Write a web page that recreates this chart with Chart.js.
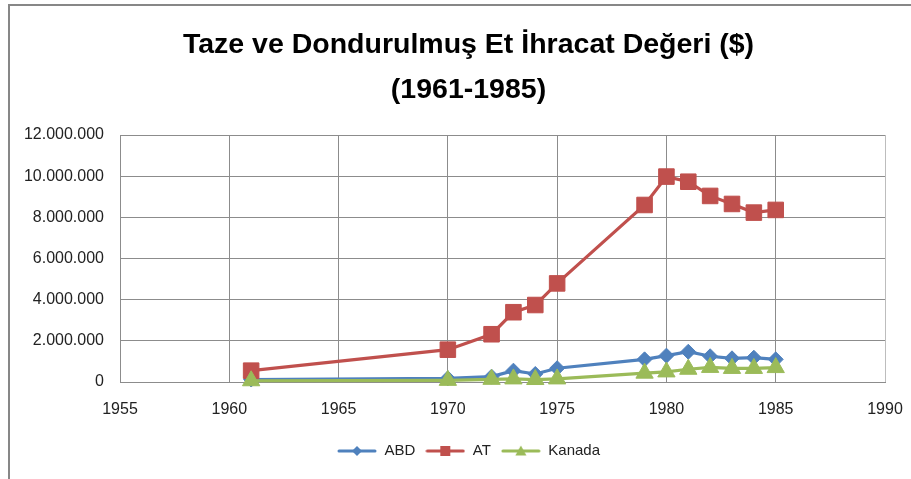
<!DOCTYPE html>
<html><head><meta charset="utf-8">
<script src="https://cdn.jsdelivr.net/npm/chart.js@4/dist/chart.umd.min.js"></script>
<style>
html,body{margin:0;padding:0;background:#fff;}
#wrap{position:relative;width:911px;height:479px;overflow:hidden;}
#frame{position:absolute;left:8px;top:4px;width:920px;height:490px;border-left:2px solid #878787;border-top:2px solid #878787;pointer-events:none;}
</style></head><body>
<div id="wrap"><canvas id="c" width="911" height="479"></canvas><div id="frame"></div></div>
<script>
const titleLines = ['Taze ve Dondurulmuş Et İhracat Değeri ($)', '(1961-1985)'];
const seriesNames = ['ABD', 'AT', 'Kanada'];
const years = [1961, 1970, 1972, 1973, 1974, 1975, 1979, 1980, 1981, 1982, 1983, 1984, 1985];
const abd = [120000, 180000, 260000, 550000, 390000, 670000, 1100000, 1280000, 1470000, 1250000, 1150000, 1180000, 1100000];
const at = [550000, 1570000, 2320000, 3390000, 3740000, 4790000, 8600000, 9980000, 9730000, 9040000, 8650000, 8230000, 8360000];
const kanada = [60000, 80000, 130000, 150000, 120000, 150000, 430000, 490000, 620000, 710000, 660000, 660000, 700000];
const xMin = 1955, xMax = 1990, xStep = 5;
const yMin = 0, yMax = 12000000, yStep = 2000000;

const FONT = "'Liberation Sans', Arial, sans-serif";
Chart.defaults.font.family = FONT;
const colors = ['#4F81BD', '#C0504D', '#9BBB59'];

function fmt(v) { return String(Math.round(v)).replace(/\B(?=(\d{3})+(?!\d))/g, '.'); }
function toXY(ys) { return years.map((y, i) => ({ x: y, y: ys[i] })); }

function legendIcon(color, style) {
  const c = document.createElement('canvas'); c.width = 40; c.height = 16;
  const g = c.getContext('2d');
  g.strokeStyle = color; g.lineWidth = 3; g.lineCap = 'round';
  g.beginPath(); g.moveTo(2, 8); g.lineTo(38, 8); g.stroke();
  g.fillStyle = color;
  g.beginPath();
  if (style === 'diamond') { g.moveTo(20, 3); g.lineTo(25, 8); g.lineTo(20, 13); g.lineTo(15, 8); g.closePath(); }
  else if (style === 'square') { g.rect(15, 3, 10, 10); }
  else { g.moveTo(20, 2.5); g.lineTo(25.5, 12.5); g.lineTo(14.5, 12.5); g.closePath(); }
  g.fill();
  return c;
}
const icons = [legendIcon(colors[0], 'diamond'), legendIcon(colors[1], 'square'), legendIcon(colors[2], 'triangle')];

function ds(i, values, style, radius, order) {
  return {
    label: seriesNames[i], data: toXY(values), showLine: true,
    borderColor: colors[i], backgroundColor: colors[i], borderWidth: 3.2,
    pointStyle: style, pointRadius: radius, pointHoverRadius: radius,
    pointBorderWidth: 1, pointBorderColor: colors[i], pointBackgroundColor: colors[i],
    order: order, clip: false
  };
}

// centre title and legend over the region the reference uses
const shiftBlocks = {
  id: 'shiftBlocks',
  afterLayout(chart) {
    [chart.titleBlock, chart.legend].forEach(b => { if (b) { b.left += 26; b.right += 26; } });
  }
};

new Chart(document.getElementById('c'), {
  type: 'scatter',
  plugins: [shiftBlocks],
  data: { datasets: [
    ds(0, abd, 'rectRot', 7.5, 2),
    ds(1, at, 'rect', 11, 1),
    ds(2, kanada, 'triangle', 10, 0)
  ] },
  options: {
    responsive: false, animation: false,
    layout: { padding: { left: 0, right: 26, top: 0, bottom: 10.5 } },
    plugins: {
      title: {
        display: true, text: titleLines, color: '#000',
        font: { family: FONT, size: 28.5, weight: 'bold', lineHeight: 45 / 28.5 },
        padding: { top: 23, bottom: 22 }
      },
      legend: {
        position: 'bottom',
        labels: {
          usePointStyle: true, pointStyleWidth: 40, color: '#222',
          font: { family: FONT, size: 15 }, padding: 10,
          sort: (a, b) => a.datasetIndex - b.datasetIndex,
          generateLabels(chart) {
            const items = Chart.defaults.plugins.legend.labels.generateLabels(chart);
            items.forEach(it => { it.pointStyle = icons[it.datasetIndex]; it.lineWidth = 0; });
            return items;
          }
        }
      },
      tooltip: { enabled: false }
    },
    scales: {
      x: {
        type: 'linear', min: xMin, max: xMax,
        ticks: { stepSize: xStep, callback: v => String(v), color: '#222', font: { size: 16 }, padding: 6, maxRotation: 0, autoSkip: false },
        grid: { color: c => (c.tick && c.tick.value === xMax) ? '#bdbdbd' : '#8c8c8c', drawTicks: true, tickLength: 12, tickColor: 'rgba(0,0,0,0)', lineWidth: 1 },
        border: { color: '#8c8c8c' },
        afterFit: s => { s.height = 51.5; }
      },
      y: {
        min: yMin, max: yMax,
        ticks: { stepSize: yStep, callback: v => fmt(v), color: '#222', font: { size: 16 }, padding: 16 },
        grid: { color: '#8c8c8c', drawTicks: false, lineWidth: 1 },
        border: { color: '#8c8c8c' },
        afterFit: s => { s.width = 120; }
      }
    }
  }
});
</script>
</body></html>
